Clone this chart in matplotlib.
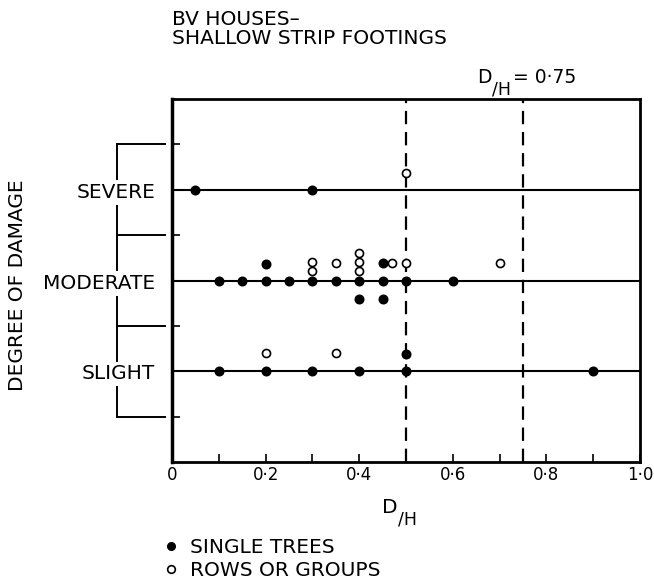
import matplotlib
matplotlib.use('Agg')
import matplotlib.pyplot as plt
from matplotlib.lines import Line2D
import numpy as np

# damage levels and tick positions
level_names = ['SLIGHT', 'MODERATE', 'SEVERE']
level_vals = [1, 2, 3]
band_edges = [0.5, 1.5, 2.5, 3.5]

x_ticks = [0, 0.2, 0.4, 0.6, 0.8, 1.0]
x_ticklabels = ['0', '0·2', '0·4', '0·6', '0·8', '1·0']
x_minor = [0.1, 0.3, 0.5, 0.7, 0.9]

limit_lines = [0.5, 0.75]

# single trees (filled)
single_x = [0.05, 0.3,
            0.1, 0.15, 0.2, 0.25, 0.3, 0.35, 0.4, 0.45, 0.5, 0.6,
            0.2, 0.45,
            0.4, 0.45,
            0.1, 0.2, 0.3, 0.4, 0.5, 0.9,
            0.5]
single_y = [3, 3,
            2, 2, 2, 2, 2, 2, 2, 2, 2, 2,
            2.18, 2.19,
            1.8, 1.8,
            1, 1, 1, 1, 1, 1,
            1.19]

# rows or groups (open)
rows_x = [0.5, 0.3, 0.3, 0.35, 0.4, 0.4, 0.4, 0.47, 0.5, 0.7, 0.2, 0.35]
rows_y = [3.19, 2.11, 2.2, 2.19, 2.11, 2.2, 2.3, 2.19, 2.19, 2.19, 1.2, 1.2]

plt.rcParams['font.family'] = ['DejaVu Sans']

W, H = 654, 588
fig = plt.figure(figsize=(W / 100, H / 100), dpi=100)
ax = fig.add_axes([0.263, 0.2143, 0.7156, 0.6173])


def px_text(x, y, s, **kw):
    # place text using pixel coords measured from the top-left corner
    return fig.text(x / W, 1 - y / H, s, **kw)


for yy in level_vals:
    ax.axhline(yy, color='k', lw=1.5, zorder=1)
for xx in limit_lines:
    ax.axvline(xx, color='k', lw=1.6, linestyle=(0, (6, 3.5)), zorder=1)

ax.plot(single_x, single_y, 'o', color='k', ms=6.2, zorder=3, clip_on=False)
ax.plot(rows_x, rows_y, 'o', mfc='white', mec='k', mew=1.2, ms=5.8, zorder=4, clip_on=False)

ax.set_xlim(0, 1.0)
ax.set_ylim(0, 4)
ax.set_xticks(x_ticks)
ax.set_xticklabels(x_ticklabels, fontsize=12)
ax.set_xticks(x_minor, minor=True)
ax.set_yticks(band_edges)
ax.set_yticklabels([])
ax.tick_params(axis='both', which='both', direction='in', length=6, width=1.2, pad=3)
for side in ['left', 'bottom', 'top', 'right']:
    ax.spines[side].set_linewidth(2)
ax.spines['left'].set_linewidth(2.5)

# x label  D/H  (H dropped like a subscript)
px_text(382, 513, 'D', fontsize=14.5, ha='left', va='baseline')
px_text(398, 525, '/H', fontsize=12.5, ha='left', va='baseline')

# bracket for damage categories
tr = ax.get_yaxis_transform()
ax.plot([-0.1175, -0.1175], [band_edges[0], band_edges[-1]], color='k', lw=1.4,
        transform=tr, clip_on=False, zorder=1)
for yy in band_edges:
    ax.plot([-0.1175, -0.015], [yy, yy], color='k', lw=1.4, transform=tr,
            clip_on=False, zorder=1)
for name, yy in zip(level_names, level_vals):
    ax.text(-0.036, yy - 0.03, name, transform=tr, ha='right', va='center',
            fontsize=14.5, zorder=5, clip_on=False,
            bbox=dict(facecolor='white', edgecolor='none', pad=2))

px_text(18, 285, 'DEGREE OF DAMAGE', rotation=90, ha='center', va='center',
        fontsize=14.5)

px_text(172, 10, 'BV HOUSES–\nSHALLOW STRIP FOOTINGS', ha='left', va='top',
        fontsize=14.5, linespacing=1.0)

# D/H = 0.75 label above the second dashed line
px_text(477, 83, 'D', fontsize=13.5, ha='left', va='baseline')
px_text(492, 95, '/H', fontsize=12.5, ha='left', va='baseline')
px_text(513, 83, '= 0·75', fontsize=13.5, ha='left', va='baseline')

handles = [Line2D([], [], marker='o', ls='none', color='k', ms=5.5),
           Line2D([], [], marker='o', ls='none', mfc='white', mec='k', mew=1.2, ms=5.5)]
fig.legend(handles, ['SINGLE TREES', 'ROWS OR GROUPS'], loc='upper left',
           bbox_to_anchor=(161 / W, 1 - 538 / H), frameon=False, fontsize=14.5,
           handlelength=1.0, handletextpad=0.45, labelspacing=0.2, borderpad=0,
           borderaxespad=0)

fig.savefig('out.png', dpi=100)
